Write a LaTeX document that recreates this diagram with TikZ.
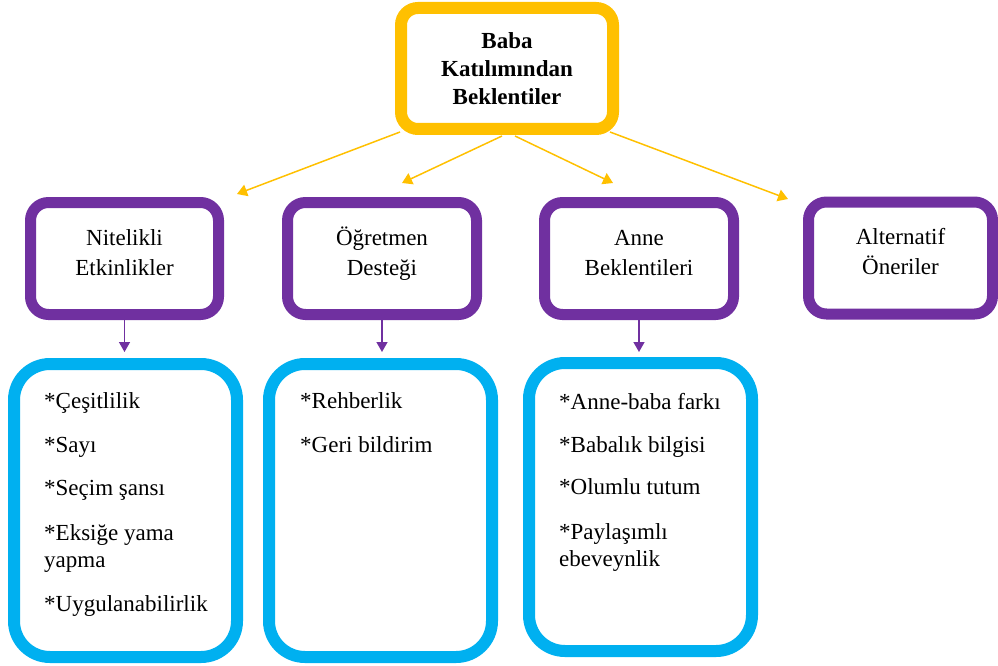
\documentclass[tikz,border=0pt]{standalone}
\usepackage{fontspec}
\setmainfont{Liberation Serif}
\usetikzlibrary{arrows.meta}
\definecolor{ygold}{HTML}{FFC000}
\definecolor{ppurple}{HTML}{7030A0}
\definecolor{sblue}{HTML}{00B0F0}
\newcommand{\mytopstrut}{\rule{0pt}{20pt}}
\newcommand{\mybotstrut}[1]{\rule[-#1]{0pt}{#1}}
\begin{document}
\begin{tikzpicture}[x=1pt,y=-1pt,
  topbox/.style={draw=ygold, line width=12pt, rounded corners=17pt,
    minimum width=212pt, minimum height=121pt, outer sep=0pt, inner sep=0pt,
    font=\bfseries\fontsize{23}{28}\selectfont, align=center},
  midbox/.style={draw=ppurple, line width=11pt, rounded corners=18pt,
    minimum height=112pt, outer sep=0pt, inner sep=0pt,
    font=\fontsize{23}{30}\selectfont, align=center},
  listbox/.style={draw=sblue, line width=12pt, rounded corners=36pt,
    minimum width=223pt, outer sep=0pt, inner sep=0pt},
  itemtext/.style={font=\fontsize{23}{27}\selectfont, align=left,
    anchor=north west, inner sep=0pt},
  yarrow/.style={draw=ygold, line width=1.5pt, -{Triangle[width=12pt,length=10pt]}},
  parrow/.style={draw=ppurple, line width=1.5pt, -{Triangle[width=11pt,length=10pt]}}
]
\useasboundingbox (0,0) rectangle (998,666);

% top box
\node[topbox] (top) at (507,68.5) {\mytopstrut Baba\\Katılımından\\Beklentiler\mybotstrut{3pt}};

% middle boxes
\node[midbox, minimum width=188pt] (p1) at (124.5,258.5) {\mytopstrut Nitelikli\\Etkinlikler\mybotstrut{17pt}};
\node[midbox, minimum width=189pt] (p2) at (382,258.5) {\mytopstrut Öğretmen\\Desteği\mybotstrut{17pt}};
\node[midbox, minimum width=189pt] (p3) at (639,258.5) {\mytopstrut Anne\\Beklentileri\mybotstrut{17pt}};
\node[midbox, minimum width=184pt] (p4) at (900.5,258) {\mytopstrut Alternatif\\Öneriler\mybotstrut{17pt}};

% list boxes
\node[listbox, minimum height=293pt] (b1) at (125.5,510.5) {};
\node[listbox, minimum height=293pt] (b2) at (380.5,510.5) {};
\node[listbox, minimum height=288pt] (b3) at (640.5,507) {};

\node[itemtext] (l1) at (44,388) {\mytopstrut{*}Çeşitlilik\\[17pt]{*}Sayı\\[16pt]{*}Seçim şansı\\[18pt]{*}Eksiğe yama\\yapma\\[17pt]{*}Uygulanabilirlik};
\node[itemtext] (l2) at (300,388) {\mytopstrut{*}Rehberlik\\[17pt]{*}Geri bildirim};
\node[itemtext] (l3) at (559,389) {\mytopstrut{*}Anne-baba farkı\\[16pt]{*}Babalık bilgisi\\[15pt]{*}Olumlu tutum\\[18pt]{*}Paylaşımlı\\ebeveynlik};

% yellow arrows
\coordinate (t1) at (237,194);
\coordinate (t2) at (402,183);
\coordinate (t3) at (613,183);
\coordinate (t4) at (788,199);
\draw[yarrow] ([shift={(-1,3)}]top.south west) -- (t1);
\draw[yarrow] ([shift={(-5,7)}]top.south) -- (t2);
\draw[yarrow] ([shift={(8,7)}]top.south) -- (t3);
\draw[yarrow] ([shift={(-3,3)}]top.south east) -- (t4);

% purple arrows
\coordinate (a1) at (124.5,352);
\coordinate (a2) at (382,352);
\coordinate (a3) at (639,352);
\draw[parrow] (p1.south) -- (a1);
\draw[parrow] (p2.south) -- (a2);
\draw[parrow] (p3.south) -- (a3);
\end{tikzpicture}
\end{document}
